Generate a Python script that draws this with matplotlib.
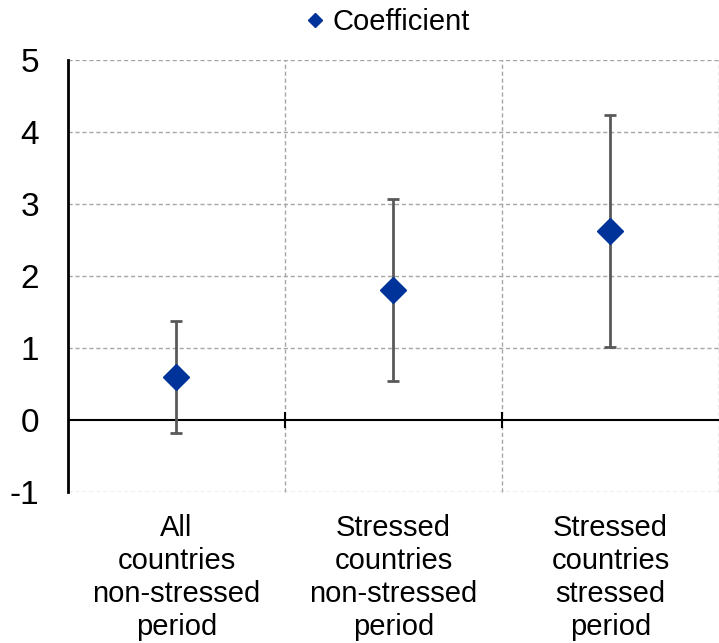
import matplotlib.pyplot as plt

plt.rcParams['font.family'] = ['Liberation Sans', 'DejaVu Sans']

# Données
categories = ['All\ncountries\nnon-stressed\nperiod',
              'Stressed\ncountries\nnon-stressed\nperiod',
              'Stressed\ncountries\nstressed\nperiod']
coef = [0.60, 1.81, 2.62]
upper = [1.38, 3.07, 4.24]
lower = [-0.18, 0.54, 1.01]

x = [i + 0.5 for i in range(len(categories))]
err_low = [c - l for c, l in zip(coef, lower)]
err_high = [u - c for u, c in zip(upper, coef)]

fig = plt.figure(figsize=(7.19, 6.43), dpi=100)
ax = fig.add_axes([0.0946, 0.2348, 0.9052, 0.672])

ax.errorbar(x, coef, yerr=[err_low, err_high], fmt='none', ecolor='#595959',
            elinewidth=2, capsize=4.5, capthick=2, zorder=3)
ax.plot(x, coef, linestyle='none', marker='D', markersize=13,
        color='#003399', label='Coefficient', zorder=4)

ax.set_xlim(0, 3)
ax.set_ylim(-1, 5)
ax.set_yticks(range(-1, 6))
ax.set_yticklabels([str(v) for v in range(-1, 6)], fontsize=24)
ax.tick_params(axis='y', length=0, pad=21)

# grille pointillée
for yv in range(-1, 6):
    if yv != 0:
        ax.axhline(yv, color='#a6a6a6', linestyle=(0, (3, 2)), linewidth=1, zorder=1)
for xv in [1, 2, 3]:
    ax.axvline(xv, color='#a6a6a6', linestyle=(0, (3, 2)), linewidth=1, zorder=1,
               clip_on=False)

# axe zéro avec graduations
ax.axhline(0, color='black', linewidth=1.5, zorder=2)
for xv in [1, 2]:
    ax.plot([xv, xv], [-0.1, 0.1], color='black', linewidth=1.5, zorder=2)

ax.set_xticks(x)
ax.set_xticklabels(categories, fontsize=21, linespacing=1.22)
ax.tick_params(axis='x', length=0, pad=16)

for s in ['top', 'right', 'bottom']:
    ax.spines[s].set_visible(False)
ax.spines['left'].set_linewidth(2)

fig.legend(loc='upper center', bbox_to_anchor=(0.533, 1.028), frameon=False,
           fontsize=21, handletextpad=0.0, handlelength=1.2, markerscale=0.55)

plt.savefig('out.png', dpi=100)
